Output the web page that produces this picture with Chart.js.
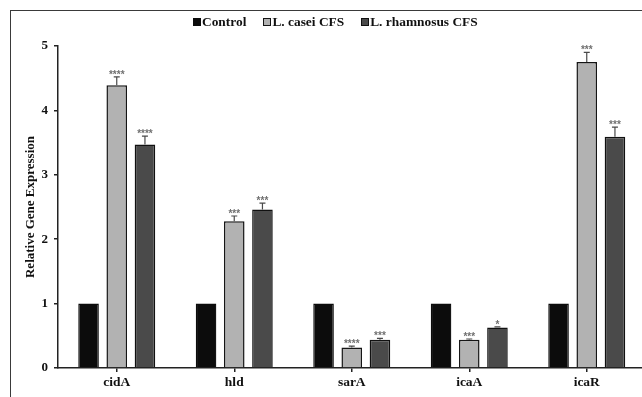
<!DOCTYPE html>
<html>
<head>
<meta charset="utf-8">
<script src="https://cdn.jsdelivr.net/npm/chart.js@4"></script>
<style>
  html, body { margin: 0; padding: 0; background: #fff; overflow: hidden; }
  #wrap { position: relative; width: 642px; height: 397px; overflow: hidden; background: #fff; }
  #frame { position: absolute; left: 10px; top: 10px; width: 700px; height: 420px;
           border-left: 1.5px solid #3a3a3a; border-top: 1.5px solid #3a3a3a; }
  #chartBox { position: absolute; left: 0; top: 0; width: 680px; height: 397px; }
  #legend { position: absolute; top: 14px; left: 193px; display: flex; gap: 17px;
            font: bold 13.4px "Liberation Serif", "Times New Roman", serif; color: #111; white-space: nowrap; }
  #legend .item { display: flex; align-items: center; }
  #legend .sw { width: 8px; height: 8px; margin-right: 1px; box-sizing: border-box; }
</style>
</head>
<body>
<div id="wrap">
  <div id="frame"></div>
  <div id="chartBox"><canvas id="c" width="680" height="397"></canvas></div>
  <div id="legend"></div>
</div>
<script>
// Genes on the x axis
const genes = ["cidA", "hld", "sarA", "icaA", "icaR"];

// Series names
const seriesNames = ["Control", "L. casei CFS", "L. rhamnosus CFS"];

// Relative expression (fold change vs control)
const controlValues   = [1, 1, 1, 1, 1];
const caseiValues     = [4.39, 2.28, 0.32, 0.44, 4.75];
const rhamnosusValues = [3.47, 2.46, 0.44, 0.63, 3.59];

// Standard error of each bar
const controlErr   = [0, 0, 0, 0, 0];
const caseiErr     = [0.13, 0.08, 0.02, 0.01, 0.15];
const rhamnosusErr = [0.13, 0.10, 0.02, 0.01, 0.15];

// Significance marks above the treated bars
const controlSig   = ["", "", "", "", ""];
const caseiSig     = ["****", "***", "****", "***", "***"];
const rhamnosusSig = ["****", "***", "***", "*", "***"];

// Y axis ticks
const yTicks = [0, 1, 2, 3, 4, 5];

const fills   = ["#0c0c0c", "#b2b2b2", "#4a4a4a"];
const borders = ["#0c0c0c", "#151515", "#111111"];
const serif = '"Liberation Serif", "Times New Roman", serif';

// HTML legend built from the series names
const legendEl = document.getElementById("legend");
seriesNames.forEach((name, i) => {
  const item = document.createElement("span");
  item.className = "item";
  const sw = document.createElement("span");
  sw.className = "sw";
  sw.style.background = fills[i];
  sw.style.border = "1.3px solid " + borders[i];
  item.appendChild(sw);
  item.appendChild(document.createTextNode(name));
  legendEl.appendChild(item);
});

const errorBars = {
  id: "errorBars",
  afterDatasetsDraw(chart) {
    const ctx = chart.ctx;
    const y = chart.scales.y;
    chart.data.datasets.forEach((ds, di) => {
      const meta = chart.getDatasetMeta(di);
      meta.data.forEach((bar, i) => {
        const v = ds.data[i];
        const e = ds.errors[i];
        const top = y.getPixelForValue(v);
        const capY = y.getPixelForValue(v + e);
        ctx.save();
        if (e > 0) {
          ctx.strokeStyle = "#4a4a4a";
          ctx.lineWidth = 1.2;
          ctx.beginPath();
          ctx.moveTo(bar.x, top);
          ctx.lineTo(bar.x, capY);
          ctx.moveTo(bar.x - 3, capY);
          ctx.lineTo(bar.x + 3, capY);
          ctx.stroke();
        }
        const s = ds.sig[i];
        if (s) {
          ctx.fillStyle = "#707070";
          ctx.font = "bold 10px 'Liberation Sans', Arial, sans-serif";
          ctx.textAlign = "center";
          ctx.textBaseline = "alphabetic";
          ctx.fillText(s, bar.x, capY + 1);
        }
        ctx.restore();
      });
    });
  }
};

new Chart(document.getElementById("c"), {
  type: "bar",
  data: {
    labels: genes,
    datasets: [
      { label: seriesNames[0], data: controlValues, errors: controlErr, sig: controlSig,
        backgroundColor: fills[0], borderColor: borders[0], borderWidth: 1.3 },
      { label: seriesNames[1], data: caseiValues, errors: caseiErr, sig: caseiSig,
        backgroundColor: fills[1], borderColor: borders[1], borderWidth: 1.5 },
      { label: seriesNames[2], data: rhamnosusValues, errors: rhamnosusErr, sig: rhamnosusSig,
        backgroundColor: fills[2], borderColor: borders[2], borderWidth: 1.5 }
    ]
  },
  options: {
    responsive: false,
    animation: false,
    devicePixelRatio: 1,
    categoryPercentage: 0.72,
    barPercentage: 0.73,
    layout: { padding: { left: 23, right: 34.5, top: 46, bottom: 5 } },
    plugins: { legend: { display: false }, tooltip: { enabled: false } },
    scales: {
      x: {
        grid: { display: true, drawOnChartArea: false, offset: false, tickLength: 4,
                color: "#222", lineWidth: 1.5 },
        border: { display: true, color: "#222", width: 1.5 },
        ticks: { color: "#111", padding: 2, font: { family: serif, size: 13.5, weight: "bold" } },
        afterFit(scale) { scale.height = 24; }
      },
      y: {
        min: 0, max: 5,
        afterBuildTicks(scale) { scale.ticks = yTicks.map(v => ({ value: v })); },
        grid: { display: true, drawOnChartArea: false, tickLength: 4, color: "#222", lineWidth: 1.5 },
        border: { display: true, color: "#222", width: 1.5 },
        ticks: { color: "#111", padding: 6, font: { family: serif, size: 13, weight: "bold" } },
        title: { display: true, text: "Relative Gene Expression", color: "#111",
                 padding: { top: 0, bottom: 0 },
                 font: { family: serif, size: 13, weight: "bold" } },
        afterFit(scale) { scale.width = 35; }
      }
    }
  },
  plugins: [errorBars]
});
</script>
</body>
</html>
